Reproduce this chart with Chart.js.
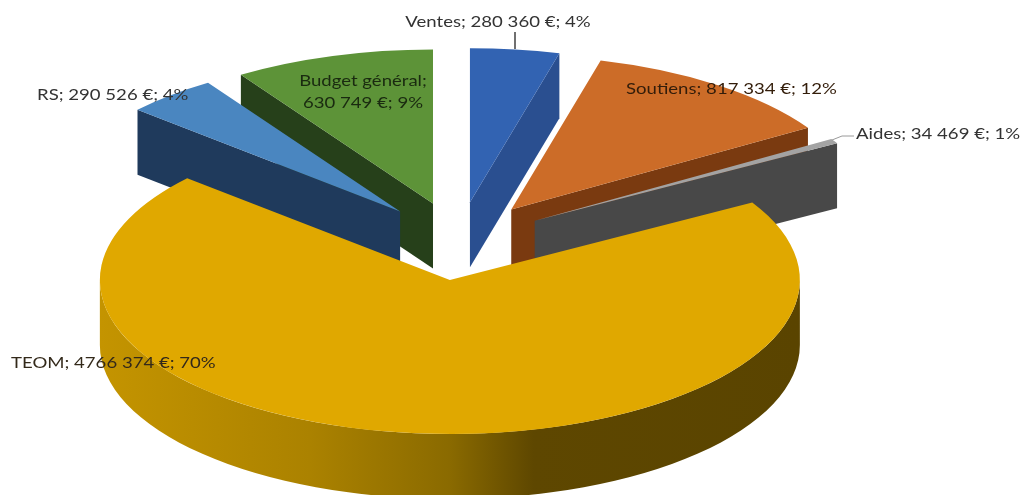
<!DOCTYPE html>
<html>
<head>
<meta charset="utf-8">
<style>
  html, body { margin: 0; padding: 0; background: #fff; }
  #wrap { width: 1024px; height: 495px; }
</style>
<script src="https://cdn.jsdelivr.net/npm/chart.js@4"></script>
</head>
<body>
<div id="wrap"><canvas id="pie"></canvas></div>
<script>
const categories = ["Ventes", "Soutiens", "Aides", "TEOM", "RS", "Budget général"];
const amounts = [280360, 817334, 34469, 4766374, 290526, 630749];
const amountLabels = ["280 360 €", "817 334 €", "34 469 €", "4766 374 €", "290 526 €", "630 749 €"];
const shareLabels = ["4%", "12%", "1%", "70%", "4%", "9%"];

const topColors = ["#3263b2", "#cc6c28", "#a3a3a3", "#e0a800", "#4a86c0", "#5d9338"];
const wallColors = ["#2a4f90", "#7a3a10", "#484848", "#8a6800", "#1f3a5c", "#26401a"];

// back slices first, the big TEOM slice goes on top of everything
const paintOrder = [5, 4, 0, 1, 2, 3];

const TILT = 0.44;     // vertical squash of the pie
const DEPTH = 65;      // height of the extruded walls
const EXPLODE = 89;    // how far each slice moves away from the centre
const TEXT_STRETCH = 1.16;

// slice origin once exploded along its middle angle
function sliceOrigin(arc) {
  const mid = (arc.startAngle + arc.endAngle) / 2;
  return {
    x: arc.x + Math.cos(mid) * EXPLODE,
    y: arc.y + Math.sin(mid) * EXPLODE * TILT
  };
}

function sideWall(ctx, o, r, angle, color) {
  const rx = o.x + Math.cos(angle) * r;
  const ry = o.y + Math.sin(angle) * r * TILT;
  ctx.fillStyle = color;
  ctx.beginPath();
  ctx.moveTo(o.x, o.y);
  ctx.lineTo(rx, ry);
  ctx.lineTo(rx, ry + DEPTH);
  ctx.lineTo(o.x, o.y + DEPTH);
  ctx.closePath();
  ctx.fill();
}

function outerWall(ctx, o, r, from, to, fill) {
  ctx.fillStyle = fill;
  ctx.beginPath();
  ctx.ellipse(o.x, o.y, r, r * TILT, 0, from, to, false);
  ctx.ellipse(o.x, o.y + DEPTH, r, r * TILT, 0, to, from, true);
  ctx.closePath();
  ctx.fill();
}

// labels are a touch wider than the font, so stretch them around their anchor
function stretchedText(ctx, text, x, y) {
  ctx.save();
  ctx.translate(x, y);
  ctx.scale(TEXT_STRETCH, 1);
  ctx.fillText(text, 0, 0);
  ctx.restore();
}

// pulls the flat pie into an exploded 3D pie, the arcs stay the library's
const pie3d = {
  id: "pie3d",
  beforeDatasetsDraw(chart) {
    const ctx = chart.ctx;
    const arcs = chart.getDatasetMeta(0).data;
    paintOrder.forEach((i) => {
      const arc = arcs[i];
      const o = sliceOrigin(arc);
      const r = arc.outerRadius;
      const wall = wallColors[i];

      if (Math.cos(arc.startAngle) < 0) sideWall(ctx, o, r, arc.startAngle, wall);
      if (Math.cos(arc.endAngle) > 0) sideWall(ctx, o, r, arc.endAngle, wall);

      // only the front half of the rim shows
      const from = Math.max(arc.startAngle, 0);
      const to = Math.min(arc.endAngle, Math.PI);
      if (to > from) {
        const grad = ctx.createLinearGradient(o.x - r, 0, o.x + r, 0);
        grad.addColorStop(0, "#c49400");
        grad.addColorStop(0.3, "#ab8200");
        grad.addColorStop(0.5, "#8a6a00");
        grad.addColorStop(0.62, "#5e4700");
        grad.addColorStop(1, "#5a4400");
        outerWall(ctx, o, r, from, to, grad);
      }

      ctx.save();
      ctx.translate(o.x, o.y);
      ctx.scale(1, TILT);
      ctx.translate(-arc.x, -arc.y);
      arc.draw(ctx);
      ctx.restore();
    });
    return false;
  },
  afterDraw(chart) {
    const ctx = chart.ctx;
    ctx.save();

    // leader lines for the two outside labels
    ctx.lineWidth = 1.5;
    ctx.strokeStyle = "#404040";
    ctx.beginPath();
    ctx.moveTo(515, 32);
    ctx.lineTo(515, 49);
    ctx.stroke();
    ctx.lineWidth = 1;
    ctx.strokeStyle = "#9a9a9a";
    ctx.beginPath();
    ctx.moveTo(832, 140);
    ctx.lineTo(842, 136);
    ctx.lineTo(854, 136);
    ctx.stroke();

    ctx.font = '16px Lato, "Open Sans", sans-serif';
    ctx.textBaseline = "middle";
    const spots = [
      { x: 498, y: 22, align: "center", color: "#333333" },
      { x: 626, y: 89, align: "left", color: "#331d0a" },
      { x: 856, y: 134, align: "left", color: "#333333" },
      { x: 11, y: 363, align: "left", color: "#33291a" },
      { x: 37, y: 95, align: "left", color: "#333333" }
    ];
    spots.forEach((s, k) => {
      ctx.textAlign = s.align;
      ctx.fillStyle = s.color;
      stretchedText(ctx, categories[k] + "; " + amountLabels[k] + "; " + shareLabels[k], s.x, s.y);
    });

    // this one wraps on two lines inside its slice
    ctx.textAlign = "center";
    ctx.fillStyle = "#1a2a10";
    stretchedText(ctx, categories[5] + ";", 363, 81);
    stretchedText(ctx, amountLabels[5] + "; " + shareLabels[5], 363, 103);
    ctx.restore();
  }
};

new Chart(document.getElementById("pie"), {
  type: "pie",
  plugins: [pie3d],
  data: {
    labels: categories,
    datasets: [{
      data: amounts,
      backgroundColor: topColors,
      borderWidth: 0
    }]
  },
  options: {
    responsive: true,
    maintainAspectRatio: false,
    animation: false,
    radius: 350,
    layout: { padding: { left: 0, right: 107, top: 0, bottom: 13 } },
    plugins: {
      legend: { display: false },
      tooltip: { enabled: false }
    }
  }
});
</script>
</body>
</html>
